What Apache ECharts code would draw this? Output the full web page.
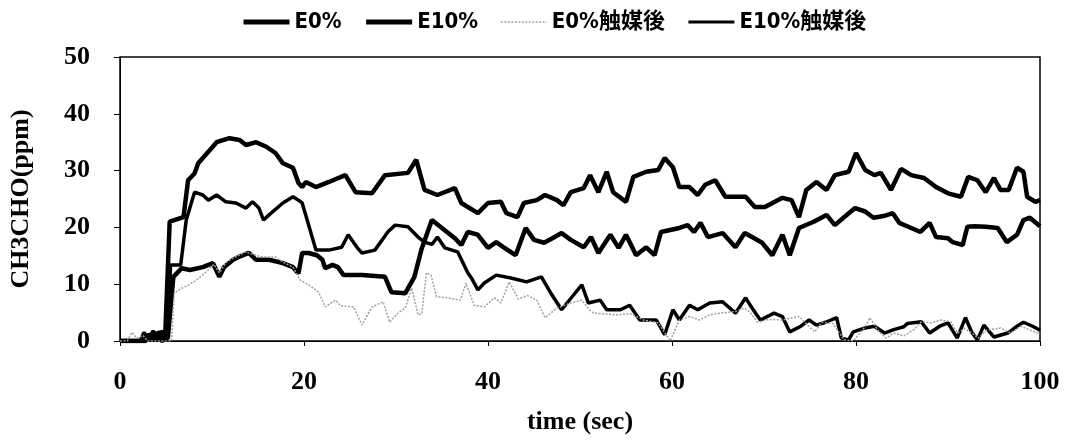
<!DOCTYPE html>
<html>
<head>
<meta charset="utf-8">
<script src="https://cdn.jsdelivr.net/npm/echarts@6/dist/echarts.min.js"></script>
<style>
html,body{margin:0;padding:0;background:#fff;}
#chart{width:1065px;height:440px;}
</style>
</head>
<body>
<div id="chart"></div>
<script>
// ---- data (time in sec, CH3CHO in ppm) ----
var seriesNames = ['E0%', 'E10%', 'E0%触媒後', 'E10%触媒後'];
var xTicks = [0, 20, 40, 60, 80, 100];
var yTicks = [0, 10, 20, 30, 40, 50];

var e0Time = [0, 2.5, 3, 3.5, 4, 4.5, 5.2, 5.8, 6.7, 7.6, 9, 10.1, 10.8, 11.3, 12.3, 12.9, 14, 14.8, 16.2, 17.7, 18.8, 19.4, 19.8, 20.5, 21.4, 22, 22.3, 23.1, 23.7, 24.3, 26.3, 28.8, 29.5, 31, 32, 32.8, 33.9, 35.3, 36.4, 37.1, 37.8, 38.9, 40, 40.9, 41.7, 43, 44.1, 45, 46.1, 47, 48, 49, 50.4, 51.2, 52, 53.3, 54.2, 55, 56.1, 57.2, 58.1, 58.8, 60.8, 61.7, 62.4, 63.1, 63.9, 65.5, 66.9, 67.9, 68.7, 69.8, 70.9, 72, 72.8, 73.8, 75.4, 76.8, 77.7, 78.7, 79.9, 81, 81.9, 83, 84, 84.7, 86, 87, 88, 88.7, 90, 90.5, 91.6, 92.1, 92.9, 94.1, 95.4, 96.4, 97.5, 98.2, 98.9, 100];
var e0Vals = [0, 0, 1, 0.3, 1.5, 0, 0.5, 11.3, 12.8, 12.5, 13, 13.7, 11.3, 13, 14.3, 14.8, 15.5, 14.3, 14.3, 13.7, 13, 11.9, 15.5, 15.5, 15.1, 14.3, 12.8, 13.4, 13, 11.6, 11.6, 11.3, 8.6, 8.4, 11.3, 16.3, 21.3, 19.5, 18.1, 16.9, 19.2, 18.7, 16.4, 17.4, 16.5, 15.1, 19.9, 17.8, 17.3, 18.1, 19, 17.8, 16.5, 18.3, 15.5, 18.7, 16.4, 18.7, 15.1, 16.5, 15.1, 19.2, 19.9, 20.4, 19.2, 20.8, 18.3, 19, 16.5, 19, 18.3, 17.3, 15.1, 18.7, 15.1, 19.9, 21, 22.2, 20.4, 21.8, 23.4, 22.8, 21.7, 22, 22.5, 20.8, 19.9, 19.2, 20.8, 18.3, 18.1, 17.4, 16.9, 20.1, 20.2, 20.1, 19.9, 17.4, 18.7, 21.3, 21.7, 20.2];

var e10Time = [0, 2.8, 3.2, 3.7, 4.3, 4.9, 5.4, 6.9, 7.4, 8.1, 8.5, 9.6, 10.5, 11.9, 13, 13.7, 14.8, 15.9, 16.9, 17.7, 18.8, 19.4, 19.8, 20.2, 21.3, 22.7, 24.5, 25.6, 27.4, 28.8, 31.3, 32.2, 33.1, 34.5, 36.4, 37.1, 38.9, 40, 41.4, 42, 43.2, 43.9, 45.3, 46.2, 47.5, 48.2, 49, 50.4, 51.1, 52, 52.9, 53.6, 55, 55.8, 57.2, 58.5, 59.2, 60.1, 60.8, 61.9, 62.8, 63.6, 64.7, 65.8, 68, 69, 70.1, 72, 73, 73.8, 74.6, 75.7, 76.8, 77.7, 79.2, 80, 81, 82, 82.7, 83.8, 84.9, 86, 87.4, 88.7, 90, 91.4, 92.2, 93.2, 94.1, 95, 95.7, 96.6, 97.5, 98.2, 98.6, 99.5, 100];
var e10Vals = [0, 0, 1.2, 0.3, 1.6, 0.4, 21, 21.8, 28.3, 29.5, 31.3, 33.3, 35, 35.7, 35.4, 34.5, 35, 34.2, 33.1, 31.3, 30.5, 27.8, 27.1, 28, 27.1, 28, 29.2, 26.2, 26, 29.2, 29.6, 31.9, 26.6, 25.7, 26.9, 24.3, 22.5, 24.3, 24.5, 22.5, 21.8, 24.3, 24.8, 25.7, 24.8, 23.9, 26.2, 26.9, 29.2, 26.2, 29.8, 26.2, 24.5, 28.9, 29.8, 30.1, 32.2, 30.6, 27.1, 27.1, 25.7, 27.5, 28.3, 25.4, 25.4, 23.6, 23.6, 25.2, 24.8, 21.8, 26.6, 28, 26.6, 29.2, 29.8, 33.1, 30.1, 29.2, 29.6, 26.6, 30.3, 29.2, 28.7, 27.1, 26, 25.4, 28.9, 28.3, 26.2, 28.7, 26.6, 26.6, 30.5, 29.8, 25.4, 24.5, 24.8];

var e0CatTime = [0, 0.8, 1.3, 1.8, 2.5, 3, 5.6, 5.9, 6.6, 7.5, 8.3, 9.4, 10.2, 10.8, 11.5, 12.3, 13.7, 14.5, 15.5, 16.9, 17.8, 18.8, 19.6, 20.5, 21.6, 22.3, 23.4, 24, 25.4, 26.3, 27.4, 28.6, 29.3, 30.2, 31, 31.7, 32.4, 32.8, 33.3, 33.8, 34.4, 35.6, 37, 37.6, 38.5, 39.6, 40.7, 41.4, 42.3, 43.3, 44.3, 45.3, 46.2, 47.5, 49, 50.2, 51, 51.5, 52.6, 54, 55.5, 56.9, 58.5, 59.8, 60.8, 61.9, 63, 64.1, 65.2, 66.9, 67.9, 68.5, 69.3, 70.5, 72, 73.8, 75.5, 76.3, 77.5, 78.7, 79.7, 81, 81.5, 82.5, 83.3, 84.1, 85.2, 86.3, 87.1, 88.2, 89.2, 90.3, 91, 91.8, 92.6, 93.3, 94.2, 95.7, 96.8, 97.9, 99, 100];
var e0CatVals = [0, 0, 1.5, 0.5, 1, 0, 0, 8.4, 9.2, 9.9, 10.7, 12.2, 13.5, 12, 13.8, 14.6, 15.7, 15.2, 14.8, 14.8, 13.8, 13, 10.7, 9.9, 8.6, 6, 7.2, 6.2, 6, 2.8, 6, 6.9, 3.3, 4.9, 5.8, 9.3, 4.6, 4.8, 12, 11.6, 7.8, 7.6, 7.2, 10.2, 6.3, 6, 7.6, 6.7, 10.4, 7.4, 8, 7.2, 4.1, 5.8, 6.7, 7.2, 5.5, 4.9, 4.8, 4.6, 4.8, 3.7, 3.2, 0, 3.7, 4.3, 3.7, 4.6, 4.9, 5.2, 5.8, 5, 3.3, 3.8, 3.7, 4.3, 1.6, 3.3, 3.1, 0.2, 0, 2.5, 4.1, 1.6, 0.5, 1.4, 0.9, 2, 3.4, 3.2, 3.7, 3.4, 1.4, 2.2, 1.4, 0.5, 1.9, 2.3, 1.4, 2.6, 1.9, 1.2];

var e10CatTime = [0, 2.2, 2.6, 3.1, 3.6, 4.1, 4.6, 5.1, 5.5, 6.6, 7.2, 8.1, 9, 9.6, 10.5, 11.5, 12.6, 13.7, 14.4, 15.1, 15.6, 16.2, 17.7, 18.8, 19.4, 19.8, 20.4, 21.3, 22.7, 24.1, 24.8, 25.8, 26.3, 27.7, 28.5, 29.1, 29.9, 31.3, 32.4, 33.1, 33.9, 34.5, 35.3, 36.7, 37.8, 38.2, 38.9, 39.6, 40.9, 42.5, 44.2, 45.8, 46.8, 48, 49.3, 50.2, 50.9, 52.2, 52.9, 54.4, 55.4, 56.5, 58.3, 59.2, 60.1, 60.8, 61.9, 62.8, 64.1, 65.5, 66.9, 68, 68.7, 69.6, 71.1, 72, 72.8, 73.9, 74.9, 75.7, 76.7, 77.9, 78.4, 79.2, 79.7, 81, 82, 83.1, 84.1, 85.2, 85.6, 87.1, 88, 89.1, 90, 91, 91.9, 92.6, 93.2, 93.9, 95, 96.5, 97.5, 98.2, 99.2, 100];
var e10CatVals = [0, 0, 1.5, 0.3, 1.8, 0, 1.8, 0.3, 13.4, 13.4, 21.3, 26.2, 25.7, 24.8, 25.7, 24.5, 24.3, 23.4, 24.5, 23.4, 21.3, 22.2, 24.3, 25.4, 24.8, 24.3, 21, 16, 16, 16.5, 18.7, 16.4, 15.5, 16, 17.8, 19.2, 20.4, 20.1, 18.3, 17.4, 17, 18.3, 16.4, 15.7, 12, 11.1, 9, 10.2, 11.6, 11.1, 10.4, 11.3, 8.5, 5.5, 8.1, 9.9, 6.7, 7.2, 5.5, 5.5, 6.3, 3.7, 3.7, 1.1, 5.5, 3.7, 6.3, 5.5, 6.7, 6.9, 4.9, 7.6, 5.8, 3.7, 4.9, 4.3, 1.6, 2.5, 3.7, 2.8, 3.3, 4.1, 0.5, 0.2, 1.6, 2.3, 2.6, 1.4, 2, 2.5, 3.1, 3.4, 1.4, 2.6, 3.2, 0.5, 4.1, 1.5, 0.2, 2.8, 0.7, 1.4, 2.6, 3.3, 2.6, 1.9];

function zip(t, v) { return t.map(function (x, i) { return [x, v[i]]; }); }

var chart = echarts.init(document.getElementById('chart'), null, {renderer: 'canvas'});
var serif = "'Liberation Serif', 'DejaVu Serif', serif";
var narrow = "'Liberation Sans Narrow', 'DejaVu Sans Condensed', 'Noto Sans CJK JP', sans-serif";
var styles = [
  {color: '#000', width: 4.5, type: 'solid'},
  {color: '#000', width: 4.5, type: 'solid'},
  {color: '#a0a0a0', width: 1.5, type: [2, 1.5]},
  {color: '#000', width: 3.5, type: 'solid'}
];
var legendWidths = [5, 5, 1.5, 3];

var option = {
  animation: false,
  backgroundColor: '#ffffff',
  legend: {
    top: 6,
    left: 236,
    itemWidth: 46,
    itemHeight: 14,
    itemGap: 22,
    itemTextGap: 2,
    itemStyle: {opacity: 0},
    textStyle: {fontFamily: narrow, fontWeight: 'bold', fontSize: 22, color: '#000'},
    data: seriesNames.map(function (n, i) {
      return {name: n, lineStyle: {width: legendWidths[i], color: styles[i].color, type: styles[i].type}};
    })
  },
  grid: {left: 113, right: 25, top: 57, bottom: 99, show: true, borderColor: '#000', borderWidth: 1.5, backgroundColor: 'transparent'},
  xAxis: {
    type: 'value', min: xTicks[0], max: xTicks[xTicks.length - 1], interval: 20,
    name: 'time (sec)', nameLocation: 'middle', nameGap: 68,
    nameTextStyle: {fontFamily: serif, fontWeight: 'bold', fontSize: 26, color: '#000'},
    axisLine: {show: true, lineStyle: {color: '#000', width: 1}},
    axisTick: {show: true, inside: false, length: 5, lineStyle: {color: '#000'}},
    axisLabel: {margin: 28, fontFamily: serif, fontWeight: 'bold', fontSize: 26, color: '#000'},
    splitLine: {show: false}
  },
  yAxis: {
    type: 'value', min: yTicks[0], max: yTicks[yTicks.length - 1], interval: 10,
    name: 'CH3CHO(ppm)', nameLocation: 'middle', nameGap: 86, nameRotate: 90,
    nameTextStyle: {fontFamily: serif, fontWeight: 'bold', fontSize: 26, color: '#000'},
    axisLine: {show: true, lineStyle: {color: '#000', width: 1}},
    axisTick: {show: true, inside: false, length: 6, lineStyle: {color: '#000'}},
    axisLabel: {margin: 30, fontFamily: serif, fontWeight: 'bold', fontSize: 26, color: '#000'},
    splitLine: {show: false}
  },
  series: [
    {name: seriesNames[0], type: 'line', data: zip(e0Time, e0Vals), symbol: 'none', smooth: false,
     lineStyle: styles[0], itemStyle: {color: styles[0].color}, z: 3},
    {name: seriesNames[1], type: 'line', data: zip(e10Time, e10Vals), symbol: 'none', smooth: false,
     lineStyle: styles[1], itemStyle: {color: styles[1].color}, z: 3},
    {name: seriesNames[2], type: 'line', data: zip(e0CatTime, e0CatVals), symbol: 'none', smooth: false,
     lineStyle: styles[2], itemStyle: {color: styles[2].color}, z: 4},
    {name: seriesNames[3], type: 'line', data: zip(e10CatTime, e10CatVals), symbol: 'none', smooth: false,
     lineStyle: styles[3], itemStyle: {color: styles[3].color}, z: 3}
  ]
};
chart.setOption(option);
</script>
</body>
</html>
